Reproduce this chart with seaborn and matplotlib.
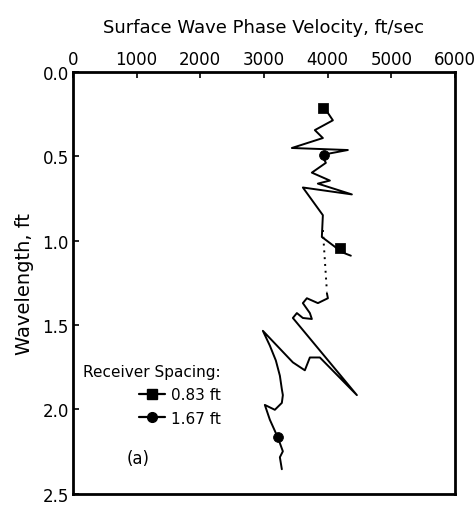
import matplotlib
matplotlib.use('Agg')
import matplotlib.pyplot as plt
from matplotlib.lines import Line2D
import pandas as pd
import seaborn as sns

# receiver spacing 0.83 ft (upper branch)
vel_083 = [3925, 4082, 3799, 3925, 3438, 4317, 3909, 3972, 3752, 4035, 3846, 4380,
           3611, 3925, 3909, 4113, 4208, 4364]
wl_083 = [0.199, 0.287, 0.345, 0.392, 0.451, 0.463, 0.492, 0.539, 0.597, 0.644, 0.662, 0.726,
          0.685, 0.849, 0.978, 1.036, 1.066, 1.089]

# receiver spacing 1.67 ft (lower branch)
vel_167 = [3988, 4004, 3847, 3674, 3611, 3721, 3752, 3611, 3517, 3454, 4459, 3878, 3721,
           3642, 3454, 2983, 3093, 3187, 3250, 3281, 3297, 3281, 3171, 3014, 3093, 3218,
           3297, 3250, 3281]
wl_167 = [1.311, 1.341, 1.370, 1.341, 1.370, 1.429, 1.464, 1.458, 1.429, 1.458, 1.915, 1.692,
          1.692, 1.768, 1.721, 1.534, 1.622, 1.710, 1.800, 1.880, 1.915, 1.961, 2.002, 1.973,
          2.061, 2.166, 2.248, 2.283, 2.354]

# dotted gap between the two branches
gap_vel = [3925, 3988]
gap_wl = [0.937, 1.300]

# marker positions
sq_vel = [3925, 4190]
sq_wl = [0.215, 1.045]
circ_vel = [3935, 3218]
circ_wl = [0.490, 2.166]

xticks = [0, 1000, 2000, 3000, 4000, 5000, 6000]
yticks = [0.0, 0.5, 1.0, 1.5, 2.0, 2.5]

c = 'k'
sns.set_style('ticks', {'text.color': c, 'axes.labelcolor': c,
                        'xtick.color': c, 'ytick.color': c, 'axes.edgecolor': c})
plt.rcParams['font.family'] = ['DejaVu Sans']

fig = plt.figure(figsize=(4.76, 5.06), dpi=100)
ax = fig.add_axes([0.153, 0.022, 0.803, 0.834])

d083 = pd.DataFrame({'v': vel_083, 'wl': wl_083})
d167 = pd.DataFrame({'v': vel_167, 'wl': wl_167})
sns.lineplot(x='v', y='wl', data=d083, sort=False, estimator=None, color=c, lw=1.4, ax=ax)
sns.lineplot(x='v', y='wl', data=d167, sort=False, estimator=None, color=c, lw=1.4, ax=ax)
ax.plot(gap_vel, gap_wl, color=c, ls=(0, (1, 2.5)), lw=1.4)
sns.scatterplot(x=sq_vel, y=sq_wl, marker='s', s=45, color=c, edgecolor=c, ax=ax, zorder=5)
sns.scatterplot(x=circ_vel, y=circ_wl, marker='o', s=50, color=c, edgecolor=c, ax=ax, zorder=5)

ax.set_xlim(0, 6000)
ax.set_ylim(2.5, 0.0)
ax.set_xticks(xticks)
ax.set_yticks(yticks)
ax.set_yticklabels(['{:.1f}'.format(t) for t in yticks])
ax.xaxis.tick_top()
ax.xaxis.set_label_position('top')
ax.tick_params(axis='both', direction='in', length=4, width=1.2, labelsize=12,
               colors=c, labelcolor=c, pad=3)
ax.set_xlabel('Surface Wave Phase Velocity, ft/sec', fontsize=13, labelpad=13, color=c)
ax.set_ylabel('Wavelength, ft', fontsize=14, labelpad=6, color=c)
for s in ax.spines.values():
    s.set_visible(True)
    s.set_linewidth(2.0)
    s.set_color(c)

handles = [
    Line2D([], [], color=c, lw=1.6, marker='s', markersize=7),
    Line2D([], [], color=c, lw=1.6, marker='o', markersize=7),
]
leg = ax.legend(handles, ['0.83 ft', '1.67 ft'], title='Receiver Spacing:', frameon=False,
                loc='center', bbox_to_anchor=(0.207, 0.235), alignment='right',
                numpoints=1, handlelength=1.7, handletextpad=0.4, fontsize=11,
                title_fontproperties={'size': 11}, labelspacing=0.55)
for t in leg.get_texts() + [leg.get_title()]:
    t.set_color(c)
ax.text(0.14, 0.085, '(a)', transform=ax.transAxes, fontsize=12, ha='left', va='center', color=c)

fig.savefig('out.png', dpi=100)
